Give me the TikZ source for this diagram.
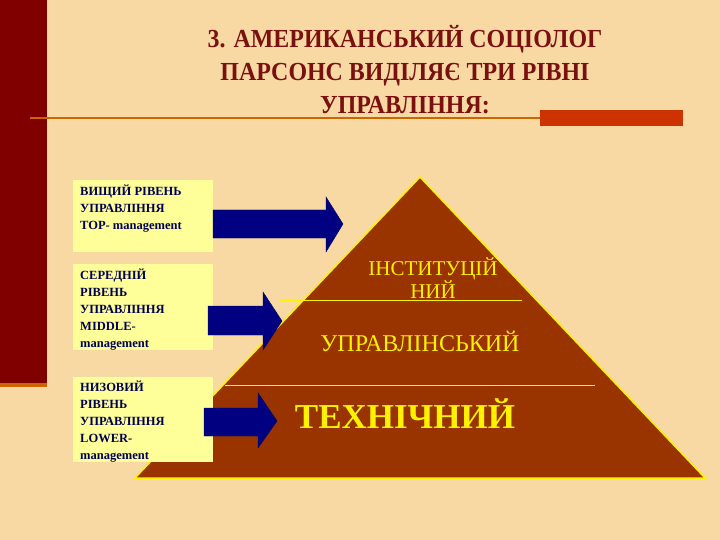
\documentclass[tikz,border=0pt]{standalone}
\usepackage{fontspec}
\setmainfont{Liberation Serif}
\definecolor{bg}{HTML}{F8D9A4}
\definecolor{dred}{HTML}{800000}
\definecolor{brown}{HTML}{993300}
\definecolor{ttl}{HTML}{7A1010}
\definecolor{org}{HTML}{CC6600}
\definecolor{blk}{HTML}{CC3300}
\definecolor{boxy}{HTML}{FFFF99}
\definecolor{navy}{HTML}{000080}
\definecolor{txtb}{HTML}{000050}
\begin{document}
\begin{tikzpicture}[x=1pt,y=-1pt,
  ltext/.style={font=\bfseries\fontsize{12.5}{17}\selectfont,text=txtb,align=left,anchor=north west,inner sep=0pt},
  arr/.style={fill=navy,draw=navy!70!black},
  ylab/.style={text=yellow}]
\fill[bg] (0,0) rectangle (720,540);
\useasboundingbox (0,0) rectangle (720,540);
\fill[dred] (0,0) rectangle (47,383);
\fill[org] (0,383) rectangle (47,387);
\node[text=ttl,font=\bfseries\fontsize{26}{33}\selectfont,align=center,xscale=0.92] (title) at (405,70)
 {3. АМЕРИКАНСЬКИЙ СОЦІОЛОГ\\ПАРСОНС ВИДІЛЯЄ ТРИ РІВНІ\\УПРАВЛІННЯ:};
\draw[org,line width=1.5pt] (30,118) -- (540,118);
\fill[blk] (540,110) rectangle (683,126);
% pyramid
\draw[yellow,line width=1.5pt,fill=brown] (420,177) coordinate (apex) -- (135,478) coordinate (bl) -- (705,478) coordinate (br) -- cycle;
\draw[yellow,line width=1pt] (280,300) -- (522,300);
\draw[yellow,line width=1pt] (225,385) -- (595,385);
\node[ylab,align=center,font=\fontsize{21}{22}\selectfont] (inst) at (433,278) {ІНСТИТУЦІЙ\\НИЙ};
\node[ylab,font=\fontsize{24}{26}\selectfont] (upr) at (420,341) {УПРАВЛІНСЬКИЙ};
\node[ylab,font=\bfseries\fontsize{35}{38}\selectfont] (tech) at (405,414) {ТЕХНІЧНИЙ};
% boxes
\fill[boxy] (73,180) rectangle (213,252);
\fill[boxy] (73,264) rectangle (213,350);
\fill[boxy] (73,377) rectangle (213,462);
\node[ltext] (b1) at (80,185) {ВИЩИЙ РІВЕНЬ\\УПРАВЛІННЯ\\TOP- management};
\node[ltext] (b2) at (80,269) {СЕРЕДНІЙ\\РІВЕНЬ\\УПРАВЛІННЯ\\MIDDLE-\\management};
\node[ltext] (b3) at (80,381) {НИЗОВИЙ\\РІВЕНЬ\\УПРАВЛІННЯ\\LOWER-\\management};
% arrows
\draw[arr] (213,210) -- (326,210) -- (326,197) -- (343,224) -- (326,252) -- (326,238) -- (213,238) -- cycle;
\draw[arr] (208,306) -- (263,306) -- (263,292) -- (282,321) -- (263,350) -- (263,335) -- (208,335) -- cycle;
\draw[arr] (204,408) -- (258,408) -- (258,393) -- (277,421) -- (258,448) -- (258,436) -- (204,436) -- cycle;
\end{tikzpicture}
\end{document}
